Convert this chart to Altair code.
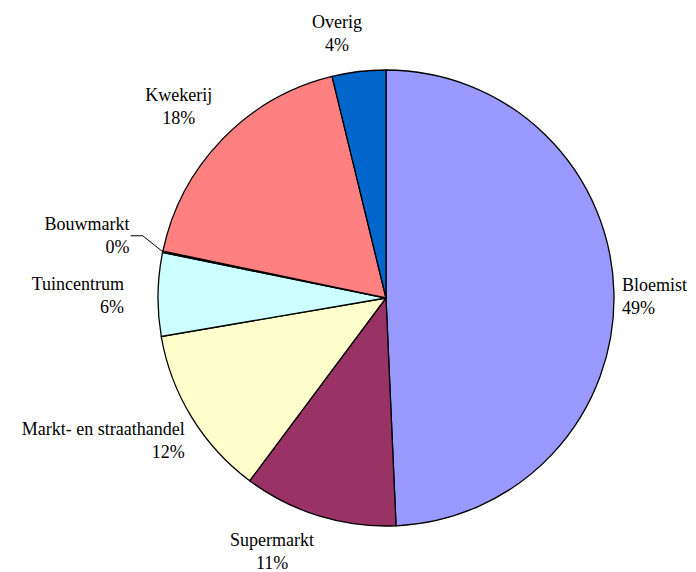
import altair as alt
import pandas as pd
import numpy as np

categories = ["Bloemist", "Supermarkt", "Markt- en straathandel", "Tuincentrum",
              "Bouwmarkt", "Kwekerij", "Overig"]
shares = [49.3, 10.9, 12.1, 5.9, 0.1, 17.9, 3.8]
pct_labels = ["49%", "11%", "12%", "6%", "0%", "18%", "4%"]
colors = ["#9999FF", "#993366", "#FFFFCC", "#CCFFFF", "#660066", "#FF8080", "#0066CC"]

df = pd.DataFrame({
    "cat": categories,
    "share": shares,
    "order": list(range(len(categories))),
    "label": [f"{c}\n{p}" for c, p in zip(categories, pct_labels)],
})

CX, CY, R = 378, 290, 228
FONT = "Liberation Serif, Times New Roman, serif"

base = alt.Chart(df).encode(
    theta=alt.Theta("share:Q", stack=True),
    order=alt.Order("order:Q"),
)

pie = base.mark_arc(outerRadius=R, stroke="black", strokeWidth=1.3).encode(
    color=alt.Color("cat:N", scale=alt.Scale(domain=categories, range=colors), legend=None),
    x=alt.value(CX), y=alt.value(CY),
)

def label_layer(cats, **kw):
    return base.mark_text(font=FONT, fontSize=18, lineBreak="\n", lineHeight=23,
                          baseline="middle", color="black", **kw).encode(
        text=alt.condition(alt.FieldOneOfPredicate(field="cat", oneOf=cats),
                           "label:N", alt.value("")),
        x=alt.value(CX), y=alt.value(CY),
    )

labels = [
    label_layer(["Bloemist"], align="left", radius=236, dy=-7),
    label_layer(["Tuincentrum"], align="right", radius=262, dy=-9),
    label_layer(["Bouwmarkt"], align="right", radius=262, dy=-20),
    label_layer(["Markt- en straathandel"], align="right", radius=236, dy=9),
    label_layer(["Kwekerij"], align="center", radius=272, dx=-12, dy=-13),
    label_layer(["Overig"], align="center", radius=268, dx=-17, dy=-9),
    label_layer(["Supermarkt"], align="center", radius=265, dx=-36, dy=-10),
]

# leader line for Bouwmarkt, computed from the slice's mid-angle
cum = np.cumsum(shares) - np.array(shares) / 2
i = categories.index("Bouwmarkt")
ang = cum[i] / sum(shares) * 2 * np.pi
px, py = CX + R * np.sin(ang), CY - R * np.cos(ang)
lead = pd.DataFrame({
    "x": [px, px - 20, px - 32],
    "y": [py, py - 16, py - 16],
    "k": [0, 1, 2],
})
leader = alt.Chart(lead).mark_line(color="black", strokeWidth=1).encode(
    x=alt.X("x:Q", scale=None), y=alt.Y("y:Q", scale=None), order="k:Q"
)

chart = alt.layer(pie, leader, *labels).properties(
    width=680, height=564, autosize="none", padding=0
).configure_view(stroke=None)

chart.save("out.html", embed_options={"renderer": "svg", "actions": False})
